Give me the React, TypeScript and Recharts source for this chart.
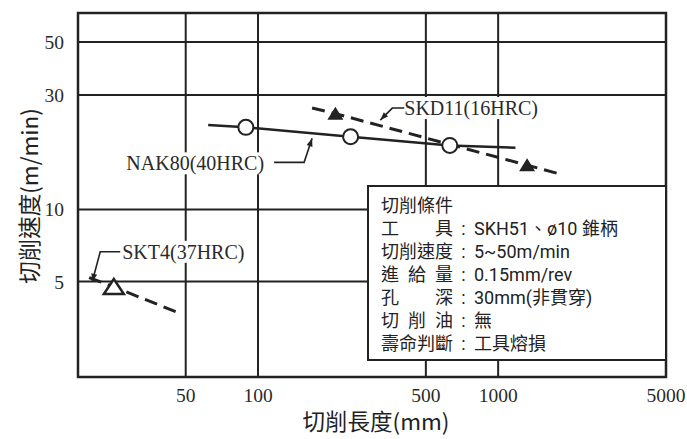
import {
  ComposedChart,
  Line,
  Scatter,
  XAxis,
  YAxis,
  CartesianGrid,
  ReferenceDot,
  ReferenceArea,
} from "recharts";

// axis setup
const xTicks = [50, 100, 500, 1000, 5000];
const yTicks = [5, 10, 30, 50];
const xDomain = [17.8, 5000];
const yDomain = [2, 66];

// NAK80 (solid, open circles)
const nak80Line = [
  { x: 62, y: 22.5 },
  { x: 89, y: 22.0 },
  { x: 243, y: 20.1 },
  { x: 629, y: 18.5 },
  { x: 1180, y: 18.1 },
];
const nak80Points = [
  { x: 89, y: 22.0 },
  { x: 243, y: 20.1 },
  { x: 629, y: 18.5 },
];

// SKD11 (dashed, filled triangles)
const skd11Line = [
  { x: 168, y: 26.5 },
  { x: 210, y: 25.1 },
  { x: 1320, y: 15.3 },
  { x: 1787, y: 14.1 },
];
const skd11Points = [
  { x: 210, y: 25.1 },
  { x: 1320, y: 15.3 },
];

// SKT4 (dashed, open triangle)
const skt4Line = [
  { x: 19.8, y: 5.2 },
  { x: 25.1, y: 4.75 },
  { x: 46.9, y: 3.7 },
];
const skt4Points = [{ x: 25.1, y: 4.75 }];

// where each leader arrow points to
const skd11Tip = { x: 323, y: 23.6 };
const nak80Tip = { x: 168, y: 19.8 };
const skt4Tip = { x: 20.4, y: 4.99 };

const conditions = [
  { label: ["工", "具"], value: "SKH51、ø10 錐柄" },
  { label: ["切", "削", "速", "度"], value: "5~50m/min" },
  { label: ["進", "給", "量"], value: "0.15mm/rev" },
  { label: ["孔", "深"], value: "30mm(非貫穿)" },
  { label: ["切", "削", "油"], value: "無" },
  { label: ["壽", "命", "判", "斷"], value: "工具熔損" },
];

const INK = "#222";
const serif = "'Liberation Serif', 'DejaVu Serif', serif";
const cjk = "'Noto Sans CJK TC', 'Noto Sans', sans-serif";
const boxFont = "Roboto, 'Noto Sans CJK TC', sans-serif";

const arrowHead = (x0: number, y0: number, x1: number, y1: number) => {
  // small filled head at (x1, y1), pointing away from (x0, y0)
  const a = Math.atan2(y1 - y0, x1 - x0);
  const len = 8;
  const w = 3;
  const bx = x1 - len * Math.cos(a);
  const by = y1 - len * Math.sin(a);
  const px = -Math.sin(a) * w;
  const py = Math.cos(a) * w;
  return `${x1},${y1} ${bx + px},${by + py} ${bx - px},${by - py}`;
};

const Leader = ({ cx, cy, pts, text, textX, textY, anchor, boxW }: any) => {
  const abs = pts.map((p: number[]) => [cx + p[0], cy + p[1]]);
  const d = "M" + abs.map((p: number[]) => p.join(",")).join(" L");
  const last = abs[0];
  const prev = abs[1];
  const tx = cx + textX;
  const ty = cy + textY;
  const rx = anchor === "end" ? tx - boxW : tx;
  return (
    <g>
      <rect x={rx - 2} y={ty - 11} width={boxW + 4} height={22} fill="#fff" />
      <path d={d} fill="none" stroke={INK} strokeWidth={1.6} />
      <polygon points={arrowHead(prev[0], prev[1], last[0], last[1])} fill={INK} />
      <text
        x={tx}
        y={ty}
        textAnchor={anchor}
        dominantBaseline="central"
        fontFamily={serif}
        fontSize={20}
        fill="#2a2a2a"
      >
        {text}
      </text>
    </g>
  );
};

const OpenCircle = ({ cx, cy }: any) => (
  <circle cx={cx} cy={cy} r={7.5} fill="#fff" stroke={INK} strokeWidth={2} />
);
const FilledTriangle = ({ cx, cy }: any) => (
  <polygon
    points={`${cx},${cy - 7} ${cx - 8},${cy + 6} ${cx + 8},${cy + 6}`}
    fill={INK}
  />
);
const OpenTriangle = ({ cx, cy }: any) => (
  <polygon
    points={`${cx},${cy - 8} ${cx - 10},${cy + 7} ${cx + 10},${cy + 7}`}
    fill="#fff"
    stroke={INK}
    strokeWidth={2.5}
  />
);

const tickStyle = { fontFamily: serif, fontSize: 19.5, fill: "#2a2a2a" };

const App = () => {
  return (
    <div style={{ position: "absolute", left: 0, top: 0, width: 687, height: 439, background: "#fff" }}>
      <ComposedChart
        width={687}
        height={439}
        margin={{ top: 13, right: 21, left: 0, bottom: 0 }}
      >
        <CartesianGrid stroke={INK} strokeWidth={2} />
        <XAxis
          type="number"
          dataKey="x"
          scale="log"
          domain={xDomain}
          ticks={xTicks}
          allowDataOverflow
          height={62}
          tickLine={false}
          axisLine={false}
          tickMargin={5}
          tick={tickStyle}
          label={{
            content: ({ viewBox }: any) => (
              <text
                x={viewBox.x + viewBox.width / 2 + 4}
                y={viewBox.y + 43}
                textAnchor="middle"
                dominantBaseline="central"
                fontFamily={cjk}
                fontSize={22.5}
                fill={INK}
              >
                切削長度(mm)
              </text>
            ),
          }}
        />
        <YAxis
          type="number"
          dataKey="y"
          scale="log"
          domain={yDomain}
          ticks={yTicks}
          allowDataOverflow
          width={78}
          tickLine={false}
          axisLine={false}
          tickMargin={8}
          tick={tickStyle}
          label={{
            content: ({ viewBox }: any) => {
              const lx = 28;
              const ly = viewBox.y + viewBox.height / 2 + 1;
              return (
                <text
                  x={lx}
                  y={ly}
                  transform={`rotate(-90 ${lx} ${ly})`}
                  textAnchor="middle"
                  dominantBaseline="central"
                  fontFamily={cjk}
                  fontSize={22.5}
                  fill={INK}
                >
                  切削速度(m/min)
                </text>
              );
            },
          }}
        />
        <ReferenceArea
          x1={xDomain[0]}
          x2={xDomain[1]}
          y1={yDomain[0]}
          y2={yDomain[1]}
          fill="none"
          stroke={INK}
          strokeWidth={2.5}
          ifOverflow="visible"
        />
        <ReferenceDot
          x={skd11Tip.x}
          y={skd11Tip.y}
          r={0}
          ifOverflow="visible"
          shape={(p: any) => (
            <Leader
              cx={p.cx}
              cy={p.cy}
              pts={[[0, 0], [12, -12], [24, -12]]}
              text="SKD11(16HRC)"
              textX={24}
              textY={-12}
              anchor="start"
              boxW={138}
            />
          )}
        />
        <ReferenceDot
          x={nak80Tip.x}
          y={nak80Tip.y}
          r={0}
          ifOverflow="visible"
          shape={(p: any) => (
            <Leader
              cx={p.cx}
              cy={p.cy}
              pts={[[0, 0], [-8, 24], [-38, 24]]}
              text="NAK80(40HRC)"
              textX={-48}
              textY={25}
              anchor="end"
              boxW={140}
            />
          )}
        />
        <ReferenceDot
          x={skt4Tip.x}
          y={skt4Tip.y}
          r={0}
          ifOverflow="visible"
          shape={(p: any) => (
            <Leader
              cx={p.cx}
              cy={p.cy}
              pts={[[0, 0], [8, -30], [28, -30]]}
              text="SKT4(37HRC)"
              textX={30}
              textY={-30}
              anchor="start"
              boxW={126}
            />
          )}
        />
        <Line
          data={nak80Line}
          dataKey="y"
          stroke={INK}
          strokeWidth={2.5}
          dot={false}
          activeDot={false}
          type="linear"
          isAnimationActive={false}
        />
        <Line
          data={skd11Line}
          dataKey="y"
          stroke={INK}
          strokeWidth={3}
          strokeDasharray="13 7"
          dot={false}
          activeDot={false}
          type="linear"
          isAnimationActive={false}
        />
        <Line
          data={skt4Line}
          dataKey="y"
          stroke={INK}
          strokeWidth={3}
          strokeDasharray="13 7"
          dot={false}
          activeDot={false}
          type="linear"
          isAnimationActive={false}
        />
        <Scatter data={nak80Points} dataKey="y" shape={OpenCircle} isAnimationActive={false} />
        <Scatter data={skd11Points} dataKey="y" shape={FilledTriangle} isAnimationActive={false} />
        <Scatter data={skt4Points} dataKey="y" shape={OpenTriangle} isAnimationActive={false} />
      </ComposedChart>

      <div
        style={{
          position: "absolute",
          left: 367,
          top: 185,
          width: 300,
          height: 176,
          boxSizing: "border-box",
          border: `2px solid ${INK}`,
          background: "#fff",
          padding: "7px 0 0 12px",
          fontFamily: boxFont,
          fontSize: 18,
          lineHeight: "23px",
          color: INK,
        }}
      >
        <div>切削條件</div>
        {conditions.map((c) => (
          <div key={c.value} style={{ display: "flex" }}>
            <span style={{ display: "flex", justifyContent: "space-between", width: 72 }}>
              {c.label.map((ch, i) => (
                <span key={i}>{ch}</span>
              ))}
            </span>
            <span style={{ width: 21, textAlign: "center" }}>:</span>
            <span>{c.value}</span>
          </div>
        ))}
      </div>
    </div>
  );
};

export default App;
